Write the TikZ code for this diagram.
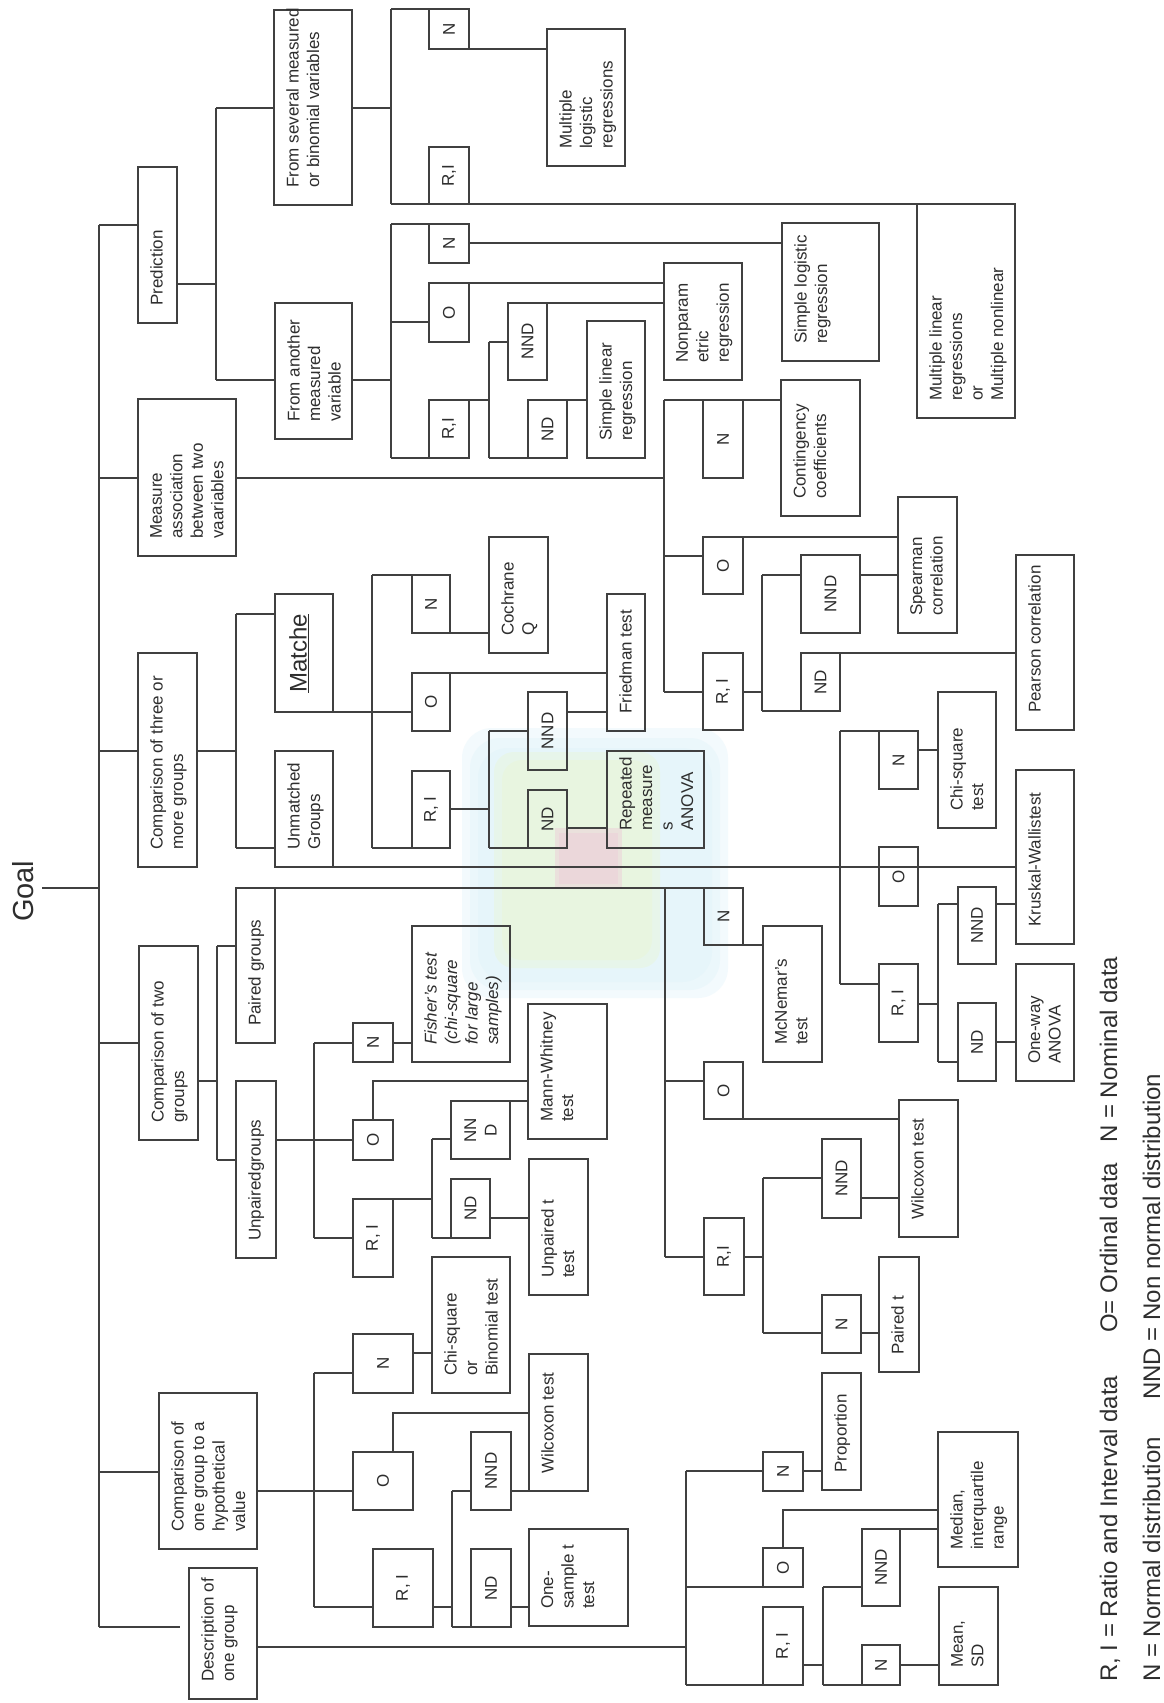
\documentclass[tikz,border=0pt]{standalone}
\usepackage{fontspec}
\setmainfont{Liberation Sans}
\definecolor{blobc}{HTML}{DDF2FA}
\definecolor{blobg}{HTML}{EAF6D2}
\definecolor{blobp}{HTML}{EDCFDA}
\tikzset{
  x=1pt,y=-1pt,
  ln/.style={line width=1.1pt, draw=black!75},
  box/.style={draw=black!75, line width=1.1pt, inner sep=0pt, outer sep=0pt, rectangle},
  btxt/.style={rotate=90, anchor=north west, inner sep=0pt, align=left, font=\fontsize{17}{20.5}\selectfont, text=black!82},
  ltxt/.style={rotate=90, inner sep=0pt, align=center, font=\fontsize{17}{20.5}\selectfont, text=black!82},
  lgd/.style={rotate=90, anchor=base west, inner sep=0pt, font=\fontsize{24}{28}\selectfont, text=black!82},
  softc/.style={fill=blobc, fill opacity=0.35, rounded corners=30},
  softg/.style={fill=blobg, fill opacity=0.4, rounded corners=20},
}
\newcommand\BX[6]{%
  \node[box,minimum width={(#4)-(#2)},minimum height={(#5)-(#3)}] (#1) at ({((#2)+(#4))/2},{((#3)+(#5))/2}) {};
  \node[btxt] (#1-t) at ([shift={(12,-17)}]#1.south west) {#6};}
\newcommand\LB[6]{%
  \node[box,minimum width={(#4)-(#2)},minimum height={(#5)-(#3)}] (#1) at ({((#2)+(#4))/2},{((#3)+(#5))/2}) {};
  \node[ltxt] (#1-t) at (#1.center) {#6};}
\begin{document}
\begin{tikzpicture}
\fill[white] (0,0) rectangle (1163,1703);
\useasboundingbox (0,0) rectangle (1163,1703);
% faint scanned blob (soft layered fills)
\fill[softc] (462,728) rectangle (728,998);
\fill[softc] (470,738) rectangle (720,990);
\fill[softc] (478,748) rectangle (712,982);
\fill[softg] (494,752) rectangle (660,968);
\fill[softg] (502,760) rectangle (652,960);
\fill[blobp, fill opacity=0.5] (555,828) rectangle (622,888);
\fill[blobp, fill opacity=0.5] (559,833) rectangle (618,884);

% Goal and spine
\node[rotate=90, anchor=base west, inner sep=0pt, font=\fontsize{29}{34}\selectfont, text=black!82] (goal) at (33,922) {Goal};
\coordinate (sp-top) at (99,225);
\coordinate (sp-bot) at (99,1627);
\coordinate (sp-goal) at (99,888);
\coordinate (goal-r) at ([xshift=9pt]goal.south);
\draw[ln] (goal-r |- sp-goal) -- (sp-goal);
\draw[ln] (sp-top) -- (sp-bot);

% level 1
\BX{pred}{138}{167}{177}{323}{Prediction}
\BX{meas}{138}{399}{236}{556}{Measure\\association\\between two\\vaariables}
\BX{cmpthree}{138}{653}{197}{867}{Comparison of three or\\more groups}
\BX{cmptwo}{139}{946}{198}{1140}{Comparison of two\\groups}
\BX{cmpone}{159}{1393}{257}{1549}{Comparison of\\one group to a\\hypothetical\\value}
\BX{desc}{189}{1568}{257}{1699}{Description of\\one group}
\draw[ln] (sp-top) -- (sp-top -| pred.west);
\draw[ln] (sp-top |- 0,478) -- (meas.west |- 0,478);
\draw[ln] (sp-top |- 0,751) -- (cmpthree.west |- 0,751);
\draw[ln] (sp-top |- 0,1043) -- (cmptwo.west |- 0,1043);
\draw[ln] (sp-top |- 0,1472) -- (cmpone.west |- 0,1472);
\coordinate (desc-gap) at (180,1627);
\draw[ln] (sp-bot) -- (desc-gap);

% ---------- Prediction
\BX{sev}{274}{10}{352}{205}{From several measured\\or binomial variables}
\BX{ano}{275}{303}{352}{439}{From another\\measured\\variable}
\LB{sN}{429}{9}{469}{49}{N}
\LB{sRI}{429}{147}{469}{204}{R,I}
\BX{mlog}{547}{29}{625}{166}{Multiple\\logistic\\regressions}
\BX{mlin}{917}{204}{1015}{418}{Multiple linear\\regressions\\or\\Multiple nonlinear}
\LB{aN}{429}{224}{469}{263}{N}
\LB{aO}{429}{283}{469}{342}{O}
\LB{aRI}{429}{400}{469}{458}{R,I}
\LB{aNND}{508}{303}{547}{380}{NND}
\LB{aND}{528}{400}{567}{458}{ND}
\BX{slog}{782}{223}{879}{361}{Simple logistic\\regression}
\BX{npar}{664}{263}{742}{380}{Nonparam\\etric\\regression}
\BX{slin}{587}{321}{645}{458}{Simple linear\\regression}

\coordinate (pb1) at (216,108); \coordinate (pb2) at (216,380);
\draw[ln] (pred.east |- 0,284) -- (pb1 |- 0,284);
\draw[ln] (pb1) -- (pb2);
\draw[ln] (pb1) -- (pb1 -| sev.west);
\draw[ln] (pb2) -- (pb2 -| ano.west);
\coordinate (sb1) at (391,9); \coordinate (sb2) at (391,204);
\draw[ln] (sev.east |- 0,108) -- (sb1 |- 0,108);
\draw[ln] (sb1) -- (sb2);
\draw[ln] (sb1) -- (sN.north west);
\draw[ln] (sb2) -- (mlin.north east);
\draw[ln] (sN.south east) -- (sN.south east -| mlog.west);
\coordinate (ab1) at (391,224); \coordinate (ab2) at (391,458);
\draw[ln] (ano.east |- 0,380) -- (ab1 |- 0,380);
\draw[ln] (ab1) -- (ab2);
\draw[ln] (ab1) -- (aN.north west);
\draw[ln] (aN.east |- 0,243) -- (slog.west |- 0,243);
\draw[ln] (ab1 |- 0,322) -- (aO.west |- 0,322);
\draw[ln] (aO.north east) -- (aO.north east -| npar.west);
\draw[ln] (ab2) -- (aRI.south east);
\coordinate (rb1) at (489,342); \coordinate (rb2) at (489,458);
\draw[ln] (aRI.north east) -- (aRI.north east -| rb1);
\draw[ln] (rb1) -- (rb2);
\draw[ln] (rb1) -- (rb1 -| aNND.west);
\draw[ln] (aNND.north east) -- (aNND.north east -| npar.west);
\draw[ln] (rb2) -- (aND.south east);
\draw[ln] (aND.north east) -- (aND.north east -| slin.west);

% ---------- Measure association
\LB{mN}{703}{400}{743}{478}{N}
\BX{cont}{781}{380}{860}{516}{Contingency\\coefficients}
\LB{mO}{703}{537}{743}{594}{O}
\BX{spear}{898}{497}{957}{633}{Spearman\\correlation}
\LB{mRI}{703}{653}{743}{730}{R, I}
\LB{mNND}{801}{555}{860}{633}{NND}
\LB{mND}{801}{653}{840}{711}{ND}
\BX{pear}{1016}{555}{1074}{730}{Pearson correlation}
\coordinate (mb1) at (664,400); \coordinate (mb2) at (664,692);
\draw[ln] (meas.east |- 0,478) -- (mb1 |- 0,478);
\draw[ln] (mb1) -- (mb2);
\draw[ln] (mb1) -- (mb1 -| cont.west);
\draw[ln] (mb1 |- 0,556) -- (mO.west |- 0,556);
\draw[ln] (mO.north east) -- (mO.north east -| spear.west);
\draw[ln] (mb2) -- (mb2 -| mRI.west);
\coordinate (mr1) at (762,575); \coordinate (mr2) at (762,711);
\draw[ln] (mRI.east |- mb2) -- (mr1 |- mb2);
\draw[ln] (mr1) -- (mr2);
\draw[ln] (mr1) -- (mr1 -| mNND.west);
\draw[ln] (mNND.east |- mr1) -- (spear.west |- mr1);
\draw[ln] (mr2) -- (mND.south west);
\draw[ln] (mND.north east) -- (mND.north east -| pear.west);

% ---------- Three or more groups
\node[box,minimum width=58,minimum height=118] (match) at (304,653) {};
\node[btxt, font=\fontsize{24}{28}\selectfont] (match-t) at ([shift={(14,-19)}]match.south west) {\underline{Matche}};
\BX{unm}{275}{751}{333}{867}{Unmatched\\Groups}
\LB{kN}{412}{575}{450}{633}{N}
\BX{coch}{489}{537}{548}{653}{Cochrane\\Q}
\LB{kO}{412}{673}{450}{731}{O}
\BX{fried}{607}{594}{645}{731}{Friedman test}
\LB{kRI}{412}{771}{450}{848}{R, I}
\LB{kNND}{528}{692}{567}{770}{NND}
\LB{kND}{528}{790}{567}{848}{ND}
\BX{rep}{607}{751}{704}{848}{Repeated\\measure\\s\\ANOVA}
\coordinate (c3b1) at (236,614); \coordinate (c3b2) at (236,848);
\draw[ln] (cmpthree.east |- 0,751) -- (c3b1 |- 0,751);
\draw[ln] (c3b1) -- (c3b2);
\draw[ln] (c3b1) -- (c3b1 -| match.west);
\draw[ln] (c3b2) -- (c3b2 -| unm.west);
\draw[ln] (match.south east) -- (match.south east -| kO.west);
\coordinate (kb1) at (372,575); \coordinate (kb2) at (372,848);
\draw[ln] (kb1) -- (kb2);
\draw[ln] (kb1) -- (kN.north west);
\draw[ln] (kN.south east) -- (kN.south east -| coch.west);
\draw[ln] (kO.north east) -- (kO.north east -| fried.west);
\draw[ln] (kb2) -- (kRI.south west);
\coordinate (kr1) at (489,731); \coordinate (kr2) at (489,848);
\draw[ln] (kRI.east |- 0,809) -- (kr1 |- 0,809);
\draw[ln] (kr1) -- (kr2);
\draw[ln] (kr1) -- (kr1 -| kNND.west);
\draw[ln] (kNND.east |- match.south) -- (fried.west |- match.south);
\draw[ln] (kr2) -- (kND.south west);
\draw[ln] (kND.east |- 0,828) -- (rep.west |- 0,828);

% unmatched
\LB{uN}{879}{731}{918}{789}{N}
\BX{chithree}{938}{692}{996}{828}{Chi-square\\test}
\LB{uO}{879}{847}{918}{906}{O}
\BX{kw}{1016}{770}{1074}{944}{Kruskal-Wallistest}
\LB{uRI}{879}{964}{918}{1042}{R, I}
\LB{uNND}{958}{887}{996}{964}{NND}
\LB{uND}{958}{1003}{996}{1081}{ND}
\BX{anova}{1016}{964}{1074}{1081}{One-way\\ANOVA}
\draw[ln] (unm.south east) -- (unm.south east -| kw.west);
\coordinate (ub1) at (840,731); \coordinate (ub2) at (840,984);
\draw[ln] (ub1) -- (ub2);
\draw[ln] (ub1) -- (uN.north west);
\draw[ln] (uN.east |- 0,750) -- (chithree.west |- 0,750);
\draw[ln] (ub2) -- (ub2 -| uRI.west);
\coordinate (ur1) at (938,904); \coordinate (ur2) at (938,1062);
\draw[ln] (uRI.east |- 0,1004) -- (ur1 |- 0,1004);
\draw[ln] (ur1) -- (ur2);
\draw[ln] (ur1) -- (ur1 -| uNND.west);
\draw[ln] (uNND.east |- ur1) -- (kw.west |- ur1);
\draw[ln] (ur2) -- (ur2 -| uND.west);
\draw[ln] (uND.east |- 0,1042) -- (anova.west |- 0,1042);

% ---------- Two groups
\BX{pair}{236}{888}{275}{1043}{Paired groups}
\BX{unp}{236}{1081}{276}{1258}{Unpairedgroups}
\LB{pN}{704}{888}{743}{945}{N}
\BX{mcn}{763}{926}{822}{1062}{McNemar's\\test}
\LB{pO}{704}{1062}{743}{1119}{O}
\BX{wiltwo}{899}{1100}{958}{1237}{Wilcoxon test}
\LB{pRI}{704}{1218}{744}{1295}{R,I}
\LB{pNND}{822}{1139}{861}{1218}{NND}
\LB{pNb}{822}{1295}{861}{1353}{N}
\BX{pairedt}{879}{1257}{919}{1372}{Paired t}
\coordinate (t2b1) at (217,946); \coordinate (t2b2) at (217,1160);
\draw[ln] (cmptwo.east |- 0,1081) -- (t2b1 |- 0,1081);
\draw[ln] (t2b1) -- (t2b2);
\draw[ln] (t2b1) -- (t2b1 -| pair.west);
\draw[ln] (t2b2) -- (t2b2 -| unp.west);
\draw[ln] (pair.north east) -- (pN.north west);
\coordinate (qb1) at (665,888); \coordinate (qb2) at (665,1257);
\draw[ln] (qb1) -- (qb2);
\draw[ln] (pN.south east) -- (pN.south east -| mcn.west);
\draw[ln] (qb1 |- 0,1081) -- (pO.west |- 0,1081);
\draw[ln] (pO.south east) -- (pO.south east -| wiltwo.west);
\draw[ln] (qb2) -- (qb2 -| pRI.west);
\coordinate (qr1) at (763,1178); \coordinate (qr2) at (763,1333);
\draw[ln] (pRI.east |- qb2) -- (qr1 |- qb2);
\draw[ln] (qr1) -- (qr2);
\draw[ln] (qr1) -- (qr1 -| pNND.west);
\draw[ln] (pNND.east |- 0,1198) -- (wiltwo.west |- 0,1198);
\draw[ln] (qr2) -- (qr2 -| pNb.west);
\draw[ln] (pNb.east |- qr2) -- (pairedt.west |- qr2);

% unpaired
\LB{uNb}{353}{1023}{393}{1062}{N}
\BX{fish}{412}{926}{510}{1062}{\textit{Fisher's test}\\\textit{(chi-square}\\\textit{for large}\\\textit{samples)}}
\LB{uOb}{353}{1120}{393}{1160}{O}
\BX{mw}{528}{1004}{607}{1139}{Mann-Whitney\\test}
\LB{uRIb}{353}{1199}{393}{1277}{R, I}
\LB{uNNDb}{451}{1101}{510}{1159}{NN\\D}
\LB{uNDb}{451}{1179}{490}{1238}{ND}
\BX{ut}{529}{1159}{588}{1295}{Unpaired t\\test}
\coordinate (vb1) at (314,1043); \coordinate (vb2) at (314,1238);
\draw[ln] (unp.east |- 0,1140) -- (uOb.west |- 0,1140);
\draw[ln] (vb1) -- (vb2);
\draw[ln] (vb1) -- (vb1 -| uNb.west);
\draw[ln] (uNb.east |- vb1) -- (fish.west |- vb1);
\draw[ln] (uOb.north) |- (mw.west |- 0,1081);
\draw[ln] (vb2) -- (vb2 -| uRIb.west);
\coordinate (vr1) at (432,1139); \coordinate (vr2) at (432,1238);
\draw[ln] (uRIb.north east) -- (uRIb.north east -| vr1);
\draw[ln] (vr1) -- (vr2);
\draw[ln] (vr1) -- (vr1 -| uNNDb.west);
\draw[ln] (uNNDb.north east) -- (uNNDb.north east -| mw.west);
\draw[ln] (vr2) -- (uNDb.south west);
\draw[ln] (uNDb.east |- 0,1218) -- (ut.west |- 0,1218);

% ---------- One group vs hypothetical
\LB{hN}{353}{1334}{413}{1393}{N}
\BX{chib}{432}{1257}{510}{1393}{Chi-square\\or\\Binomial test}
\LB{hO}{353}{1452}{413}{1510}{O}
\BX{hwil}{529}{1354}{588}{1491}{Wilcoxon test}
\LB{hRI}{373}{1549}{433}{1627}{R, I}
\LB{hNND}{471}{1432}{511}{1510}{NND}
\LB{hND}{471}{1549}{511}{1627}{ND}
\BX{ost}{529}{1529}{628}{1626}{One-\\sample t\\test}
\coordinate (hb1) at (314,1373); \coordinate (hb2) at (314,1607);
\draw[ln] (cmpone.east |- 0,1491) -- (hO.west |- 0,1491);
\draw[ln] (hb1) -- (hb2);
\draw[ln] (hb1) -- (hb1 -| hN.west);
\draw[ln] (hN.east |- 0,1353) -- (chib.west |- 0,1353);
\draw[ln] ([xshift=10pt]hO.north) |- (hwil.west |- 0,1413);
\draw[ln] (hb2) -- (hb2 -| hRI.west);
\coordinate (hr1) at (452,1491); \coordinate (hr2) at (452,1627);
\draw[ln] (hRI.east |- hb2) -- (hr1 |- hb2);
\draw[ln] (hr1) -- (hr2);
\draw[ln] (hr1) -- (hr1 -| hNND.west);
\draw[ln] (hNND.east |- hr1) -- (hwil.south west);
\draw[ln] (hr2) -- (hND.south west);
\draw[ln] (hND.east |- 0,1607) -- (ost.west |- 0,1607);

% ---------- Description
\LB{dN}{763}{1452}{803}{1491}{N}
\BX{prop}{822}{1373}{861}{1490}{Proportion}
\LB{dO}{763}{1548}{803}{1587}{O}
\BX{med}{938}{1432}{1018}{1567}{Median,\\interquartile\\range}
\LB{dRI}{763}{1607}{803}{1685}{R, I}
\LB{dNND}{862}{1529}{900}{1606}{NND}
\LB{dNb}{862}{1645}{900}{1685}{N}
\BX{msd}{939}{1587}{998}{1685}{Mean,\\SD}
\coordinate (db1) at (686,1471); \coordinate (db2) at (686,1685);
\draw[ln] (desc.east |- 0,1647) -- (db1 |- 0,1647);
\draw[ln] (db1) -- (db2);
\draw[ln] (db1) -- (db1 -| dN.west);
\draw[ln] (dN.east |- db1) -- (prop.west |- db1);
\draw[ln] (db1 |- dO.south) -- (dO.south west);
\draw[ln] (dO.north) |- (med.west |- 0,1510);
\draw[ln] (db2) -- (dRI.south west);
\coordinate (dr1) at (823,1587); \coordinate (dr2) at (823,1685);
\draw[ln] (dRI.east |- 0,1665) -- (dr1 |- 0,1665);
\draw[ln] (dr1) -- (dr2);
\draw[ln] (dr1) -- (dr1 -| dNND.west);
\draw[ln] (dNND.north east) -- (dNND.north east -| med.west);
\draw[ln] (dr2) -- (dNb.south west);
\draw[ln] (dNb.east |- 0,1665) -- (msd.west |- 0,1665);

% ---------- Legend
\node[lgd] (lg1) at (1117,1682) {R, I = Ratio and Interval data};
\node[lgd] (lg2) at (1117,1333) {O= Ordinal data};
\node[lgd] (lg3) at (1117,1143) {N = Nominal data};
\node[lgd] (lg4) at (1160,1682) {N = Normal distribution};
\node[lgd] (lg5) at (1160,1400) {NND = Non normal distribution};
\end{tikzpicture}
\end{document}
